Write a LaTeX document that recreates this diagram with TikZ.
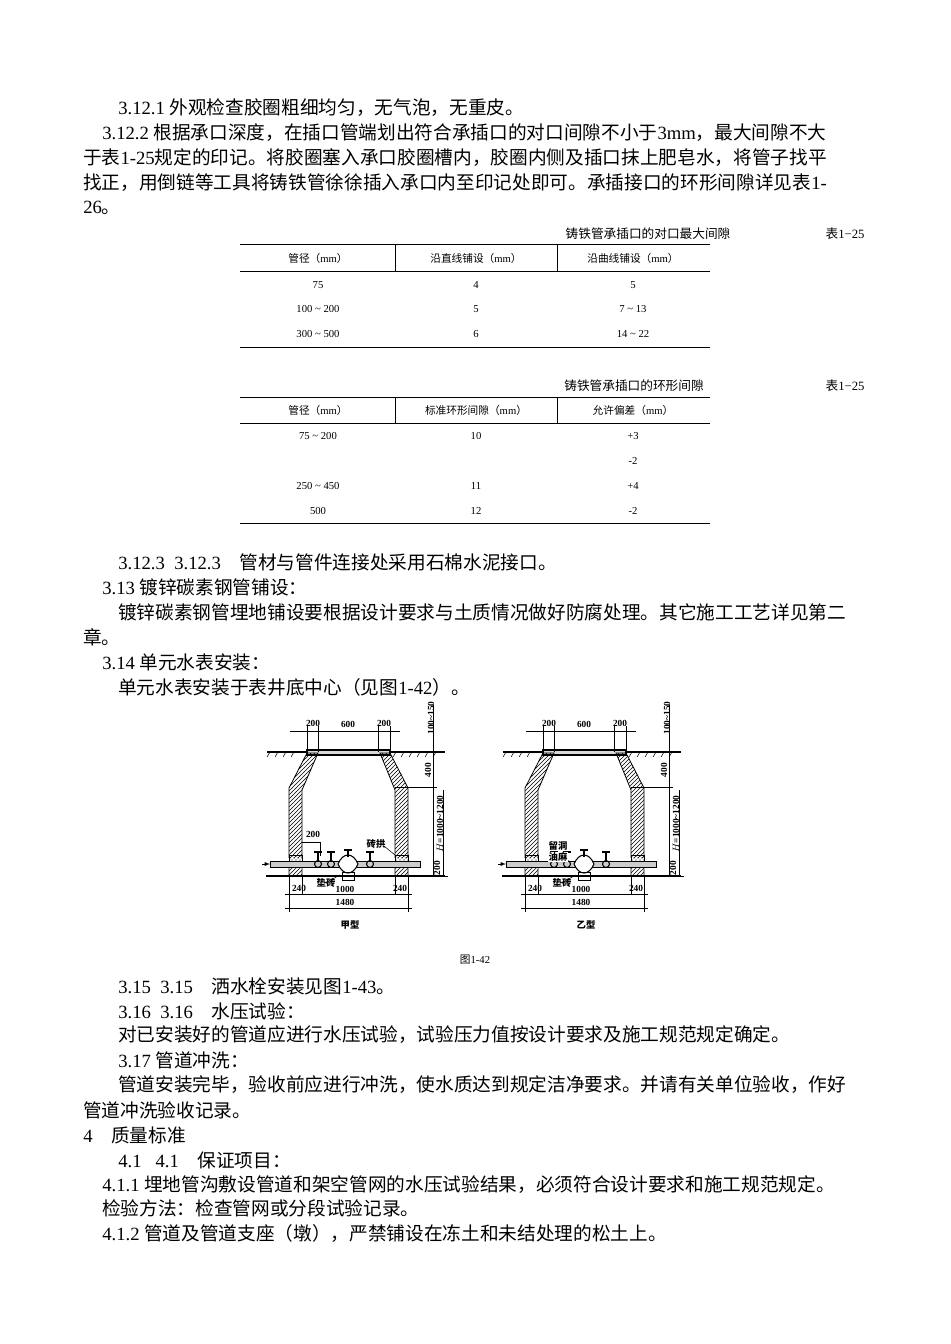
\documentclass[tikz,border=0pt]{standalone}
\usepackage{fontspec}
\setmainfont{Liberation Serif}
\newfontfamily\cjk{Noto Sans CJK SC}
\usetikzlibrary{patterns}
\XeTeXinterchartokenstate=1
\newXeTeXintercharclass\CJKcls
\count255="4E00 \loop \XeTeXcharclass\count255=\CJKcls \ifnum\count255<"9FFF \advance\count255 1 \repeat
\count255="3000 \loop \XeTeXcharclass\count255=\CJKcls \ifnum\count255<"303F \advance\count255 1 \repeat
\count255="FF00 \loop \XeTeXcharclass\count255=\CJKcls \ifnum\count255<"FFEF \advance\count255 1 \repeat
\XeTeXinterchartoks 0 \CJKcls={\cjk}
\XeTeXinterchartoks 4095 \CJKcls={\cjk}
\XeTeXinterchartoks \CJKcls 0={\rmfamily}
\tikzset{
 body/.style={anchor=west,inner sep=0pt,font=\fontsize{14pt}{16pt}\selectfont},
 tb/.style={inner sep=0pt,font=\fontsize{8pt}{9pt}\selectfont},
 tt/.style={inner sep=0pt,font=\fontsize{9.5pt}{10pt}\selectfont},
 fl/.style={inner sep=0pt,font=\fontsize{7pt}{8pt}\bfseries\selectfont},
 wall/.style={draw,line width=0.6pt,pattern=north east lines},
 dim/.style={line width=0.4pt},
}
\begin{document}
\begin{tikzpicture}[x=0.75pt,y=-0.75pt]
\useasboundingbox[fill=white] (0,0) rectangle (950,1344);
\node[body] (l1) at (118,108) {3.12.1 外观检查胶圈粗细均匀，无气泡，无重皮。};
\node[body] (l2) at (102,133) {3.12.2 根据承口深度，在插口管端划出符合承插口的对口间隙不小于3mm，最大间隙不大};
\node[body] (l3) at (83,158) {于表1-25规定的印记。将胶圈塞入承口胶圈槽内，胶圈内侧及插口抹上肥皂水，将管子找平};
\node[body] (l4) at (83,183) {找正，用倒链等工具将铸铁管徐徐插入承口内至印记处即可。承插接口的环形间隙详见表1-};
\node[body] (l5) at (83,208) {26。};
% table 1
\node[tt] (t1) at (648,234) {铸铁管承插口的对口最大间隙};
\node[tt] (t1n) at (845,234) {表1−25};
\draw[line width=0.6pt] (240,244) -- (710,244) (240,271) -- (710,271) (240,347) -- (710,347);
\draw[line width=0.4pt] (395,244) -- (395,271) (557,244) -- (557,271);
\node[tb] at (318,258) {管径（mm）};
\node[tb] at (476,258) {沿直线铺设（mm）};
\node[tb] at (633,258) {沿曲线铺设（mm）};
\node[tb] at (318,285) {75}; \node[tb] at (476,285) {4}; \node[tb] at (633,285) {5};
\node[tb] at (318,309) {100 \textasciitilde{} 200}; \node[tb] at (476,309) {5}; \node[tb] at (633,309) {7 \textasciitilde{} 13};
\node[tb] at (318,334) {300 \textasciitilde{} 500}; \node[tb] at (476,334) {6}; \node[tb] at (633,334) {14 \textasciitilde{} 22};
% table 2
\node[tt] (t2) at (634,386) {铸铁管承插口的环形间隙};
\node[tt] (t2n) at (845,386) {表1−25};
\draw[line width=0.6pt] (240,397) -- (710,397) (240,423) -- (710,423) (240,523) -- (710,523);
\draw[line width=0.4pt] (395,397) -- (395,423) (557,397) -- (557,423);
\node[tb] at (318,410) {管径（mm）};
\node[tb] at (476,410) {标准环形间隙（mm）};
\node[tb] at (633,410) {允许偏差（mm）};
\node[tb] at (318,436) {75 \textasciitilde{} 200}; \node[tb] at (476,436) {10}; \node[tb] at (633,436) {+3};
\node[tb] at (633,461) {-2};
\node[tb] at (318,486) {250 \textasciitilde{} 450}; \node[tb] at (476,486) {11}; \node[tb] at (633,486) {+4};
\node[tb] at (318,511) {500}; \node[tb] at (476,511) {12}; \node[tb] at (633,511) {-2};
% text
\node[body] at (118,562) {3.12.3\ \ 3.12.3\ \ \ \ 管材与管件连接处采用石棉水泥接口。};
\node[body] at (102,587) {3.13 镀锌碳素钢管铺设：};
\node[body] at (118,612) {镀锌碳素钢管埋地铺设要根据设计要求与土质情况做好防腐处理。其它施工工艺详见第二};
\node[body] at (83,637) {章。};
\node[body] at (102,662) {3.14 单元水表安装：};
\node[body] at (118,687) {单元水表安装于表井底中心（见图1-42）。};
% figures
\foreach \dx/\nm in {0/甲型,236/乙型}{
\begin{scope}[xshift=\dx*0.75pt]
 \draw[line width=0.8pt] (267,752) -- (445,752);
 \foreach \t in {270,278,...,300,396,404,...,440} \draw[dim] (\t,752) -- (\t-3,757);
 \draw[line width=1pt,fill=gray!30] (307,750) rectangle (390,755);
 \draw[wall] (307,753) -- (318,753) -- (302,790) -- (302,876) -- (289,876) -- (289,788) -- cycle;
 \draw[wall] (390,753) -- (380,753) -- (395,790) -- (395,876) -- (408,876) -- (408,788) -- cycle;
 \fill[white] (288,858) rectangle (303,868) (394,858) rectangle (409,868);
 \draw[pattern=crosshatch dots] (289,855) rectangle (302,861) (395,855) rectangle (408,861);
 \draw[line width=0.5pt,fill=gray!40] (270,861) rectangle (420,867);
 \draw[-latex,dim] (262,864) -- (270,864);
 \draw[line width=0.8pt] (266,876) -- (445,876);
 \foreach \vx in {318,331,370}{\draw[line width=0.8pt] (\vx,864) circle (3.5); \draw[line width=0.8pt] (\vx,860) -- (\vx,852) (\vx-4,852) -- (\vx+4,852);}
 \draw[line width=0.8pt,fill=white] (338,864) .. controls (343,852) and (353,852) .. (358,864) .. controls (353,876) and (343,876) .. (338,864);
 \draw[line width=0.8pt] (348,857) -- (348,850) (344,850) -- (352,850);
 \draw[line width=0.6pt] (342,872) rectangle (354,880);
 \draw[dim] (290,731) -- (400,731);
 \foreach \t in {307,318,378,390} \draw[dim] (\t,726) -- (\t,752);
 \node[fl] at (313,723) {200}; \node[fl] at (348,724) {600}; \node[fl] at (384,723) {200};
 \draw[dim] (433,705) -- (433,876) (420,752) -- (445,752) (395,787) -- (437,787);
 \draw[dim] (443,790) -- (443,876) (437,876) -- (448,876);
 \node[fl,rotate=90] at (431,718) {100\textasciitilde150};
 \node[fl,rotate=90] at (428,770) {400};
 \node[fl,rotate=90] at (440,824) {$H$=1000\textasciitilde1200};
 \node[fl,rotate=90] at (437,868) {200};
 \draw[dim] (289,876) -- (289,912) (302,876) -- (302,895) (395,876) -- (395,895) (408,876) -- (408,912);
 \draw[dim] (285,894) -- (412,894) (285,908) -- (412,908);
 \node[fl] at (299,888) {240}; \node[fl] at (345,889) {1000}; \node[fl] at (400,888) {240};
 \node[fl] at (345,902) {1480};
 \draw[dim] (325,883) -- (340,875);
 \node[fl] at (350,925) {\nm};
\end{scope}}
\node[fl] at (326,883) {垫砖};
\node[fl] at (562,883) {垫砖};
\draw[dim] (302,842) -- (320,842) -- (320,856);
\node[fl] at (313,834) {200};
\node[fl] at (376,844) {砖拱};
\draw[dim] (384,846) -- (395,855);
\node[fl,fill=white,inner sep=0.5pt] at (558,846) {留洞};
\node[fl,fill=white,inner sep=0.5pt] at (558,857) {油麻};
\node[tb] at (475,960) {图1-42};
\node[body] at (118,986) {3.15\ \ 3.15\ \ \ \ 洒水栓安装见图1-43。};
\node[body] at (118,1011) {3.16\ \ 3.16\ \ \ \ 水压试验：};
\node[body] at (118,1035) {对已安装好的管道应进行水压试验，试验压力值按设计要求及施工规范规定确定。};
\node[body] at (118,1060) {3.17 管道冲洗：};
\node[body] at (118,1085) {管道安装完毕，验收前应进行冲洗，使水质达到规定洁净要求。并请有关单位验收，作好};
\node[body] at (83,1110) {管道冲洗验收记录。};
\node[body] at (83,1135) {4\ \ \ \ 质量标准};
\node[body] at (118,1160) {4.1\ \ \ 4.1\ \ \ \ 保证项目：};
\node[body] at (102,1185) {4.1.1 埋地管沟敷设管道和架空管网的水压试验结果，必须符合设计要求和施工规范规定。};
\node[body] at (102,1208) {检验方法：检查管网或分段试验记录。};
\node[body] at (102,1233) {4.1.2 管道及管道支座（墩），严禁铺设在冻土和未结处理的松土上。};
\end{tikzpicture}
\end{document}
